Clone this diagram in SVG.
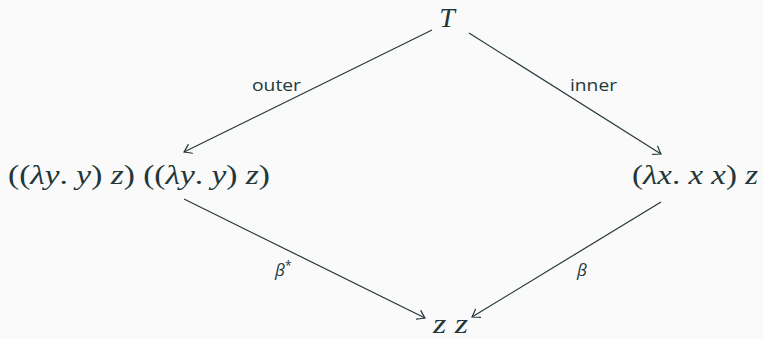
<svg xmlns="http://www.w3.org/2000/svg" width="763" height="339" viewBox="0 0 763 339">
<style>
.bg{fill:#fafafa}
.lbl{font-family:"Open Sans","Noto Sans",sans-serif;font-size:17px;fill:#23373b}
.gl{font-family:"Open Sans","Noto Sans",sans-serif;font-size:17px;font-style:italic;fill:#23373b}
.edge{stroke:#23373b;stroke-width:1.2;fill:none;marker-end:url(#arr)}
</style>
<defs>
<marker id="arr" markerUnits="userSpaceOnUse" markerWidth="14" markerHeight="14" viewBox="-10 -7 12 14" refX="0" refY="0" orient="auto">
<path d="M -7 -4.8 Q -2 -1.2 0 0 Q -2 1.2 -7 4.8" fill="none" stroke="#23373b" stroke-width="1.2" stroke-linecap="round"/>
</marker>
</defs>
<rect class="bg" x="0" y="0" width="763" height="339"/>
<g id="connectors">
<line class="edge" x1="432" y1="30" x2="184" y2="152"/>
<line class="edge" x1="469" y1="33" x2="661" y2="154"/>
<line class="edge" x1="184" y1="199" x2="425" y2="318"/>
<line class="edge" x1="661" y1="202" x2="472" y2="317"/>
<text class="lbl" x="252" y="91" textLength="49" lengthAdjust="spacingAndGlyphs">outer</text>
<text class="lbl" x="570" y="91" textLength="47" lengthAdjust="spacingAndGlyphs">inner</text>
<text class="gl" x="275" y="276">β<tspan font-size="12" dy="-6" font-style="normal">*</tspan></text>
<text class="gl" x="577" y="276">β</text>
</g>
<g id="node-T" font-family="'Liberation Serif', 'Times New Roman', serif" font-size="28" fill="#23373b">
<text x="447" y="27" text-anchor="middle" font-style="italic">T</text>
</g>
<g id="node-left" font-family="'Liberation Serif', 'Times New Roman', serif" font-size="28" fill="#23373b">
<text x="8" y="184" textLength="262" lengthAdjust="spacingAndGlyphs">((<tspan font-style="italic">λy</tspan>. <tspan font-style="italic">y</tspan>) <tspan font-style="italic">z</tspan>) ((<tspan font-style="italic">λy</tspan>. <tspan font-style="italic">y</tspan>) <tspan font-style="italic">z</tspan>)</text>
</g>
<g id="node-right" font-family="'Liberation Serif', 'Times New Roman', serif" font-size="28" fill="#23373b">
<text x="632" y="184" textLength="126" lengthAdjust="spacingAndGlyphs">(<tspan font-style="italic">λx</tspan>. <tspan font-style="italic">x x</tspan>) <tspan font-style="italic">z</tspan></text>
</g>
<g id="node-zz" font-family="'Liberation Serif', 'Times New Roman', serif" font-size="28" fill="#23373b">
<text x="433" y="333" textLength="35" lengthAdjust="spacingAndGlyphs" font-style="italic">z z</text>
</g>
</svg>
